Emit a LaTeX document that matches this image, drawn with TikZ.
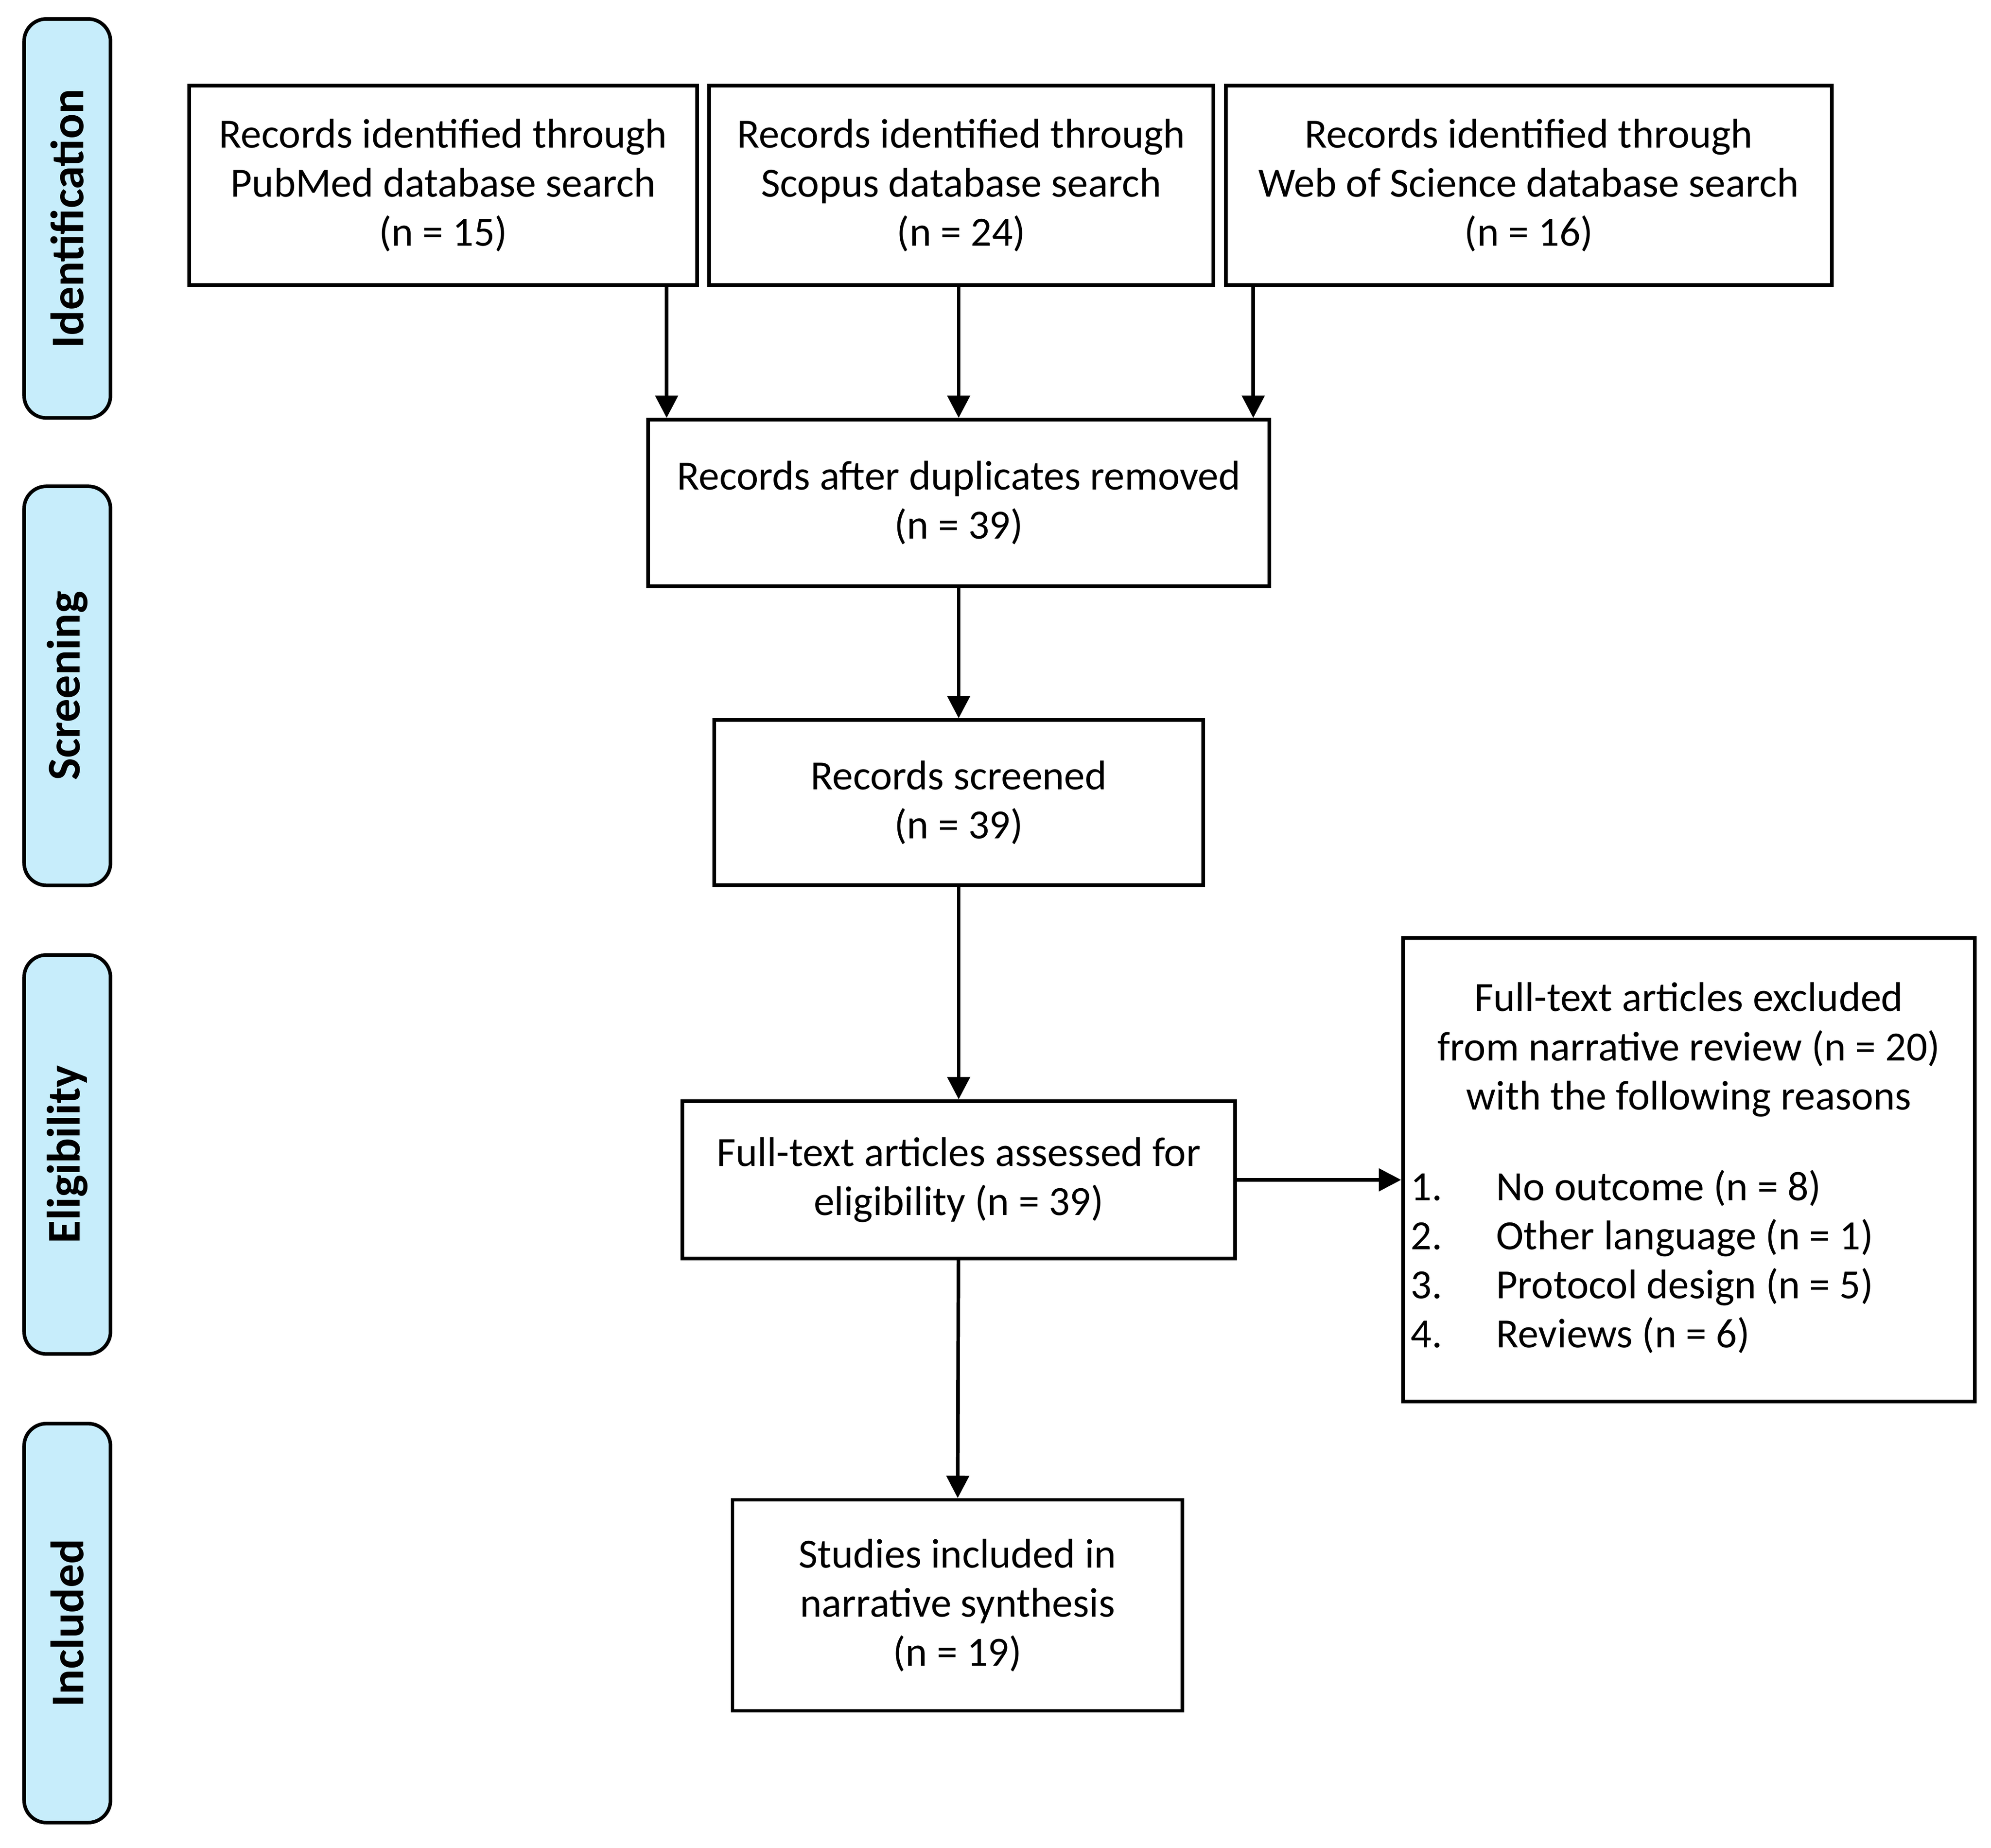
\documentclass[tikz,border=0pt]{standalone}
\usepackage{fontspec}
\setmainfont{Carlito}
\usetikzlibrary{arrows.meta}
\begin{document}
\begin{tikzpicture}[x=0.01cm,y=-0.01cm,
  font=\fontsize{9.3}{11}\selectfont,
  box/.style={draw,thick,align=center,inner sep=0pt},
  stage/.style={draw,thick,rounded corners=5pt,fill=cyan!22,minimum width=0.68cm,minimum height=3.14cm},
  arr/.style={-{Triangle[length=5pt,width=5pt]},thick}]
  \useasboundingbox (0,0) rectangle (1568,1455);
  % stages
  \node[stage] (s1) at (53,172) {};
  \node[stage] (s2) at (53,540) {};
  \node[stage] (s3) at (53,909) {};
  \node[stage] (s4) at (53,1278) {};
  \foreach \n/\t in {s1/Identification,s2/Screening,s3/Eligibility,s4/Included}
    \node[rotate=90,font=\fontsize{10.5}{12}\bfseries] at (\n) {\t};
  % boxes
  \node[box,minimum width=4cm,minimum height=1.57cm] (pub) at (349,146)
    {Records identified through\\PubMed database search\\(n = 15)};
  \node[box,minimum width=3.97cm,minimum height=1.57cm] (sco) at (757,146)
    {Records identified through\\Scopus database search\\(n = 24)};
  \node[box,minimum width=4.77cm,minimum height=1.57cm] (wos) at (1204,146)
    {Records identified through\\Web of Science database search\\(n = 16)};
  \node[box,minimum width=4.89cm,minimum height=1.31cm] (dup) at (755,396)
    {Records after duplicates removed\\(n = 39)};
  \node[box,minimum width=3.85cm,minimum height=1.3cm] (scr) at (755,632)
    {Records screened\\(n = 39)};
  \node[box,minimum width=4.35cm,minimum height=1.24cm] (full) at (755,929)
    {Full-text articles assessed for\\eligibility (n = 39)};
  \node[box,minimum width=4.5cm,minimum height=3.65cm] (exc) at (1330,921)
    {\begin{tabular}{@{}l@{\hspace{1.3em}}l@{}}
     \multicolumn{2}{c}{Full-text articles excluded}\\
     \multicolumn{2}{c}{from narrative review (n = 20)}\\
     \multicolumn{2}{c}{with the following reasons}\\[1.0em]
     1. & No outcome (n = 8)\\
     2. & Other language (n = 1)\\
     3. & Protocol design (n = 5)\\
     4. & Reviews (n = 6)
     \end{tabular}};
  \node[box,minimum width=3.54cm,minimum height=1.66cm] (inc) at (754,1264)
    {Studies included in\\narrative synthesis\\(n = 19)};
  % arrows
  \coordinate (a1) at (525,0);
  \coordinate (a2) at (755,0);
  \coordinate (a3) at (987,0);
  \draw[arr] (pub.south -| a1) -- (dup.north -| a1);
  \draw[arr] (sco.south -| a2) -- (dup.north -| a2);
  \draw[arr] (wos.south -| a3) -- (dup.north -| a3);
  \draw[arr] (dup) -- (scr);
  \draw[arr] (scr) -- (full);
  \draw[arr] (full) -- (inc);
  \draw[arr] (full.east) -- (exc.west |- full.east);
\end{tikzpicture}
\end{document}
